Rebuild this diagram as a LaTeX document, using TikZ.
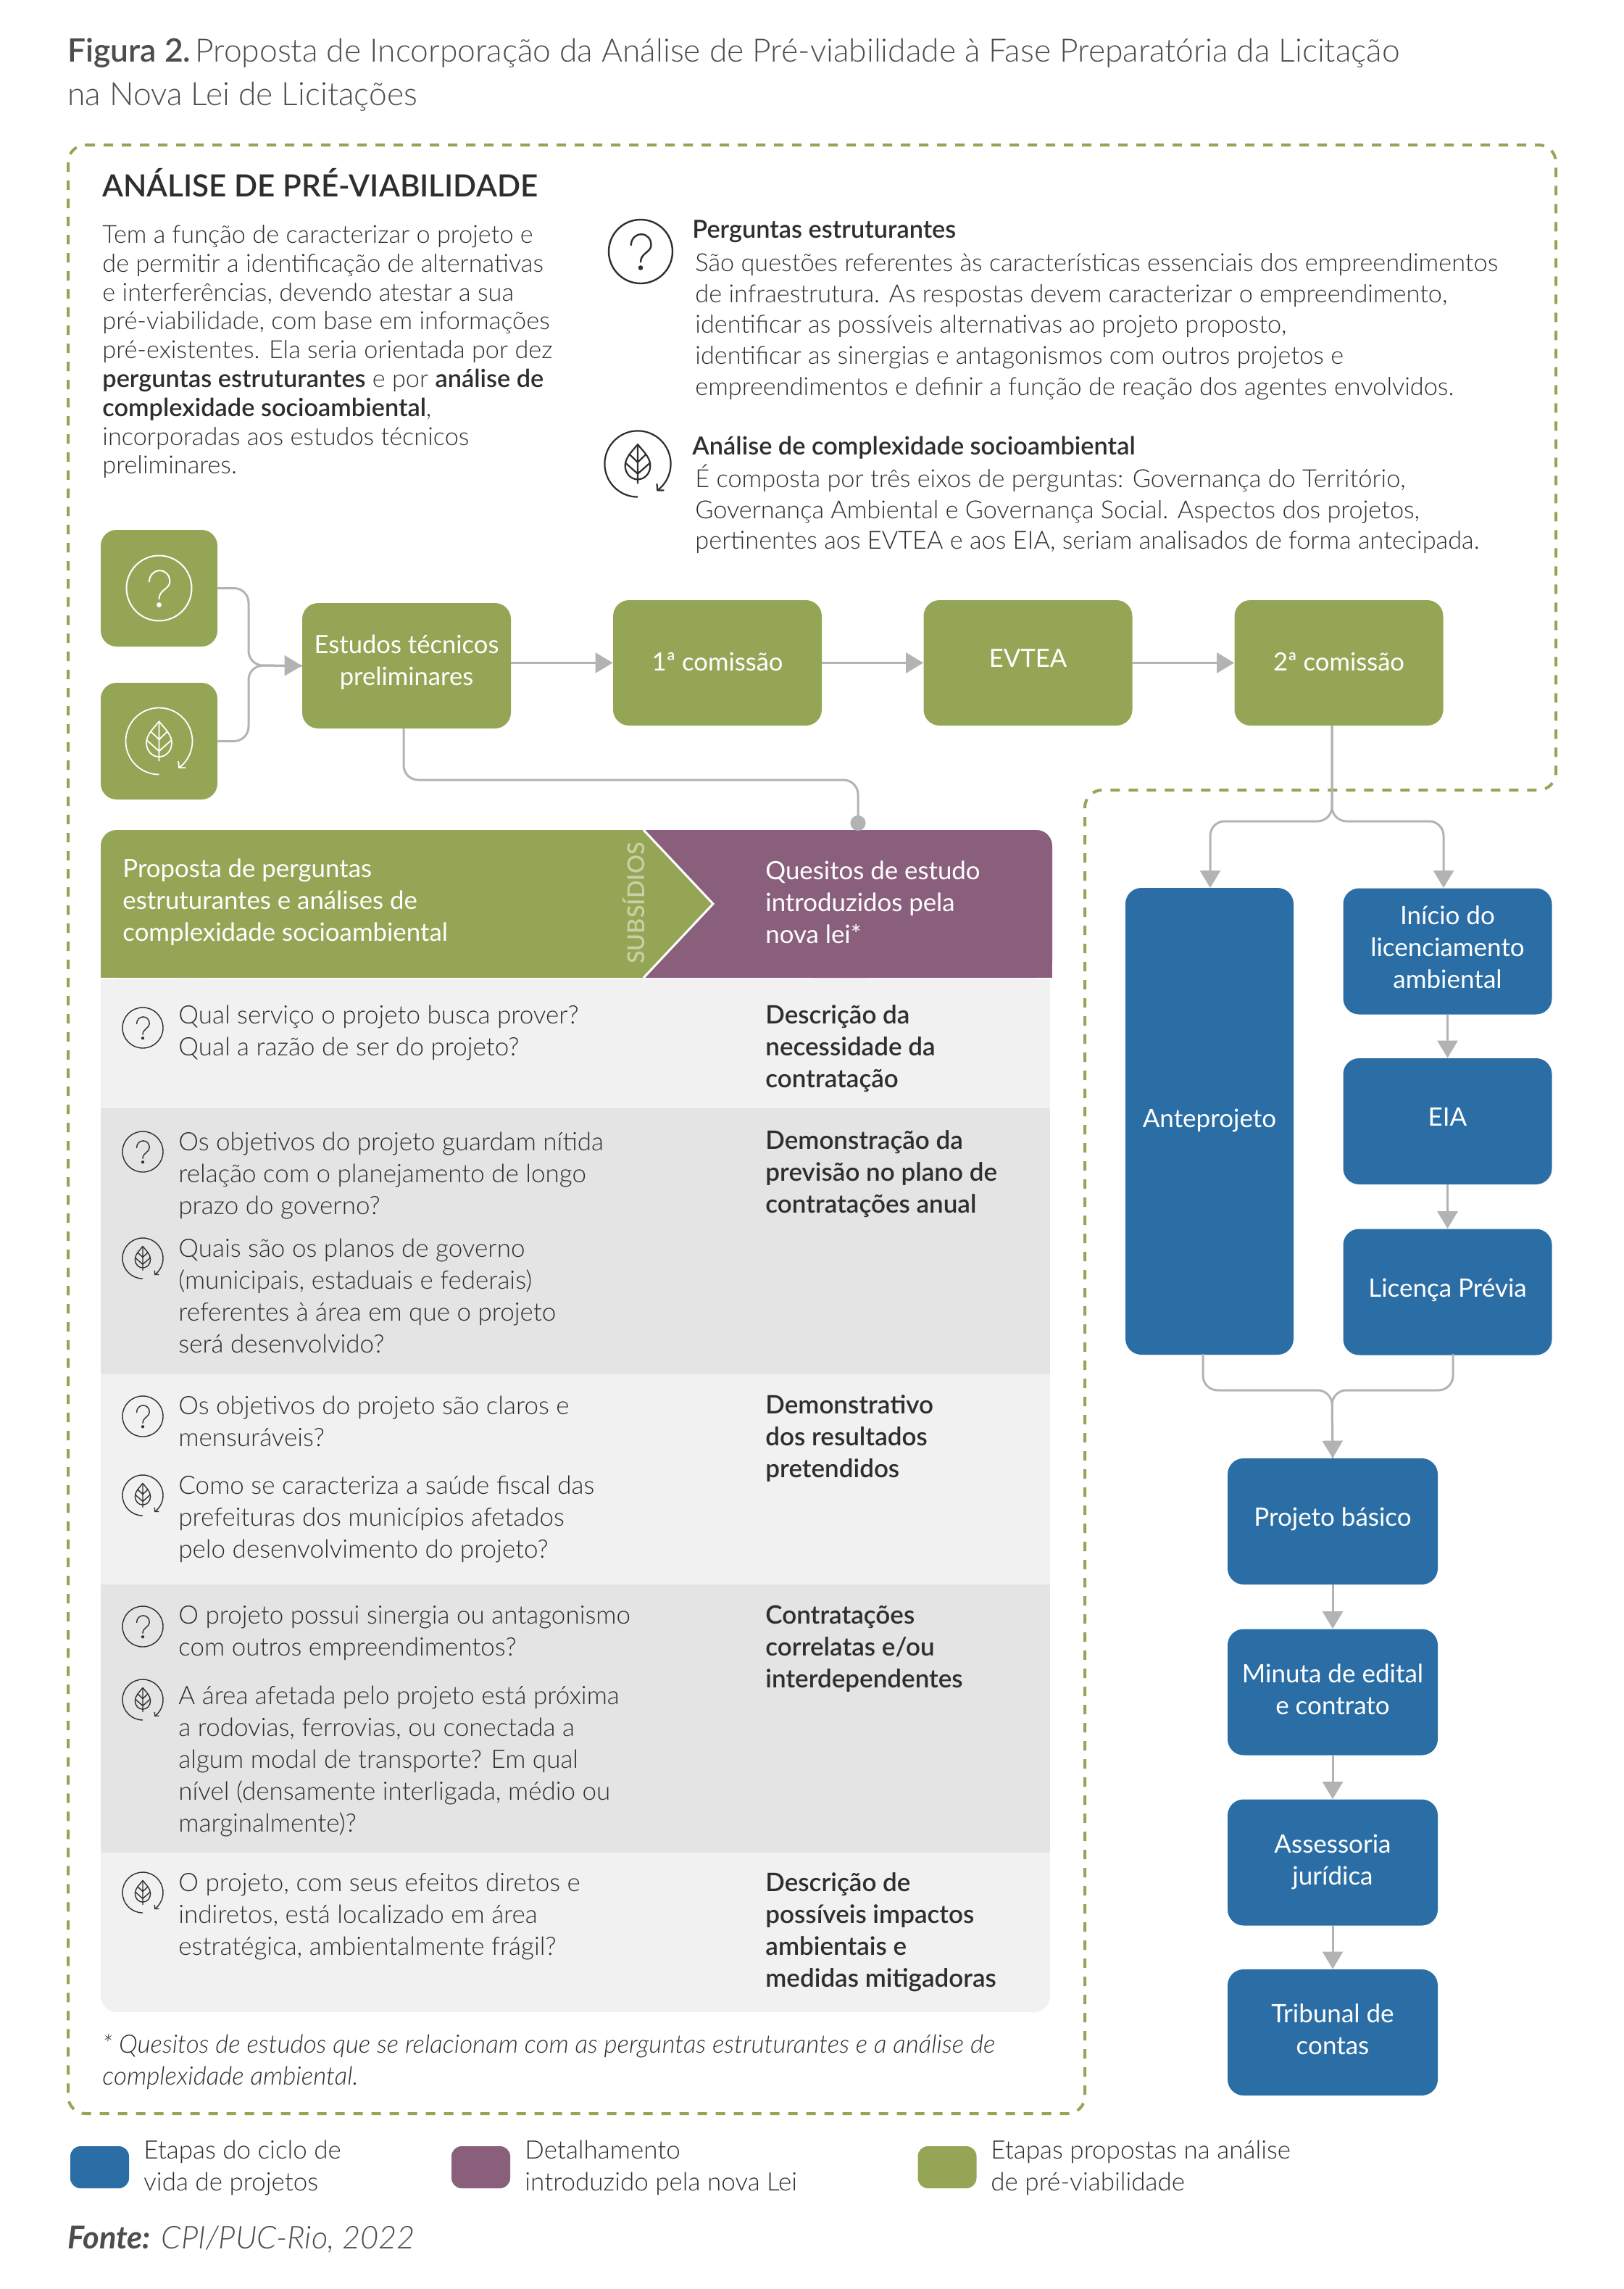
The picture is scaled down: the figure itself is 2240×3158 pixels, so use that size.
\documentclass[tikz,border=0pt]{standalone}
\usepackage{fontspec}
\setmainfont{Lato Light}[BoldFont={Lato Semibold},ItalicFont={Lato Light Italic},BoldItalicFont={Lato Bold Italic}]
\newfontfamily\semib{Lato Semibold}
\newfontfamily\regw{Lato}
\usetikzlibrary{arrows.meta}
\definecolor{grn}{HTML}{94A656}
\definecolor{blu}{HTML}{2A6EA5}
\definecolor{pur}{HTML}{8A5F7C}
\definecolor{conng}{HTML}{B3B3B3}
\definecolor{ink}{HTML}{2E2E2E}
\definecolor{ink2}{HTML}{4D4D4D}
\definecolor{rowa}{HTML}{F1F1F1}
\definecolor{rowb}{HTML}{E4E4E4}
\definecolor{subs}{HTML}{C6D0A2}
\newcommand\upby[1]{\rule[-#1]{0pt}{#1}}
\newcommand\fl{\rule{0pt}{22pt}}
\newcommand\icr{10pt}
\newcommand\icc{ink}
\tikzset{
 icon r/.store in=\icr,
 icon c/.store in=\icc,
 tx/.style={anchor=north west,inner sep=0pt,align=left,yshift=22pt,text=ink},
 parA/.style={tx,font=\fontsize{17.15}{19.9}\selectfont},
 parB/.style={tx,font=\fontsize{17.15}{21.35}\selectfont},
 tb/.style={tx,font=\fontsize{17.5}{22}\selectfont},
 hd/.style={tx,text=white,font=\regw\fontsize{17.4}{22}\selectfont},
 lg/.style={tx,font=\fontsize{17.5}{22}\selectfont},
 stepbox/.style={rectangle,rounded corners=11pt,inner sep=0pt,text=white,align=center,font=\regw\fontsize{17.5}{22}\selectfont},
 gbox/.style={stepbox,fill=grn,minimum width=144pt,minimum height=86.5pt,font=\regw\fontsize{17.3}{22}\selectfont},
 bbox/.style={stepbox,fill=blu,minimum width=144pt,minimum height=87pt},
 swatch/.style={rectangle,rounded corners=7pt,inner sep=0pt,minimum width=40.5pt,minimum height=29pt},
 conn/.style={draw=conng,line width=1.5pt,rounded corners=10pt},
 arr/.style={conn,-{Triangle[length=12pt,width=14pt,fill=conng]}},
 qmark/.pic={
  \begin{scope}[x=\icr,y=\icr]
   \draw[draw=\icc,pic actions,fill=none] (0,0) circle (1);
   \draw[draw=\icc,pic actions,fill=none,line cap=round] (-.3,.2) .. controls (-.3,.4) and (-.15,.54) .. (.02,.54) .. controls (.2,.54) and (.33,.4) .. (.33,.2) .. controls (.33,-.02) and (0,-.05) .. (0,-.33);
   \fill[fill=\icc] (0,-.51) circle (.075);
  \end{scope}
 },
 leafmark/.pic={
  \begin{scope}[x=\icr,y=\icr]
   \draw[draw=\icc,pic actions,fill=none] (0,-1) arc[start angle=270,end angle=-53,radius=1];
   \draw[draw=\icc,pic actions,fill=none] (.58,-.6) -- (.6,-.8) -- (.8,-.8);
   \draw[draw=\icc,pic actions,fill=none,line join=round] (0,.59) .. controls (-.15,.4) and (-.38,.2) .. (-.38,-.05) .. controls (-.38,-.3) and (-.2,-.47) .. (0,-.47) .. controls (.2,-.47) and (.38,-.3) .. (.38,-.05) .. controls (.38,.2) and (.15,.4) .. (0,.59) -- cycle;
   \draw[draw=\icc,pic actions,fill=none] (0,.59) -- (0,-.6) (-.36,.02) -- (0,-.3) -- (.36,.02) (-.24,.28) -- (0,.05) -- (.24,.28);
  \end{scope}
 }
}
\begin{document}
\begin{tikzpicture}[x=0.5pt,y=-0.5pt]
\useasboundingbox (0,0) rectangle (2240,3158);
% title
\node[tx,text=ink2,font=\fontsize{22.2}{30}\selectfont,at={(93,85)}] (title) {\fl{\semib Figura 2.}\hspace{-5pt} Proposta de Incorporação da Análise de Pré-viabilidade à Fase Preparatória da Licitação\\na Nova Lei de Licitações};
% dashed outline
\draw[draw=grn,line width=2pt,dash pattern=on 6.5pt off 6pt,rounded corners=12pt] (94,200) -- (2147,200) -- (2147,1090) -- (1497,1090) -- (1497,2916) -- (94,2916) -- cycle;
\node[tx,font=\fontsize{21.1}{24}\selectfont,at={(141,271)}] (heading) {\fl{\semib ANÁLISE DE PRÉ-VIABILIDADE}};
\node[parA,at={(141,335)}] (intro) {\fl Tem a função de caracterizar o projeto e\\de permitir a identificação de alternativas\\e interferências, devendo atestar a sua\\pré-viabilidade, com base em informações\\pré-existentes. Ela seria orientada por dez\\\textbf{perguntas estruturantes} e por \textbf{análise de}\\\textbf{complexidade socioambiental},\\incorporadas aos estudos técnicos\\preliminares.};
\pic[icon r=22pt,line width=1.2pt] at (884,347) {qmark};
\node[parB,at={(955,328)}] (pe) {\fl\textbf{Perguntas estruturantes}};
\node[parB,at={(959,374)}] (pet) {\fl São questões referentes às características essenciais dos empreendimentos\\de infraestrutura. As respostas devem caracterizar o empreendimento,\\identificar as possíveis alternativas ao projeto proposto,\\identificar as sinergias e antagonismos com outros projetos e\\empreendimentos e definir a função de reação dos agentes envolvidos.};
\pic[icon r=22.8pt,line width=1.1pt] at (880,640) {leafmark};
\node[parB,at={(955,627)}] (ac) {\fl\textbf{Análise de complexidade socioambiental}};
\node[parB,at={(959,672)}] (act) {\fl É composta por três eixos de perguntas: Governança do Território,\\Governança Ambiental e Governança Social. Aspectos dos projetos,\\pertinentes aos EVTEA e aos EIA, seriam analisados de forma antecipada.};
% green flow
\node[stepbox,fill=grn,minimum width=80.5pt,minimum height=80.5pt,at={(219.5,811.5)}] (qbox) {};
\node[stepbox,fill=grn,minimum width=80.5pt,minimum height=80.5pt,at={(219.5,1022.5)}] (lbox) {};
\pic[icon r=22.5pt,icon c=white,line width=1pt] at (qbox) {qmark};
\pic[icon r=23pt,icon c=white,line width=.9pt] at (lbox) {leafmark};
\node[gbox,at={(561,918.5)}] (etp) {Estudos técnicos\\preliminares\upby{8pt}};
\node[gbox,at={(990,914.5)}] (c1) {1ª comissão\upby{2pt}};
\node[gbox,at={(1418.5,914.5)}] (evtea) {EVTEA\upby{6pt}};
\node[gbox,at={(1847.5,914.5)}] (c2) {2ª comissão\upby{2pt}};
% blue flow
\node[stepbox,fill=blu,minimum width=116pt,minimum height=322pt,at={(1669,1547)}] (ante) {Anteprojeto\upby{4pt}};
\node[bbox,at={(1997.5,1312.5)}] (ini) {Início do\\licenciamento\\ambiental\upby{6pt}};
\node[bbox,at={(1997.5,1547)}] (eia) {EIA\upby{6pt}};
\node[bbox,at={(1997.5,1782.5)}] (lic) {Licença Prévia\upby{6pt}};
\node[bbox,at={(1839,2099)},minimum width=145pt] (pb) {Projeto básico\upby{6pt}};
\node[bbox,at={(1839,2334.5)},minimum width=145pt] (min) {Minuta de edital\\e contrato\upby{4pt}};
\node[bbox,at={(1839,2569.5)},minimum width=145pt] (ass) {Assessoria\\jurídica\upby{4pt}};
\node[bbox,at={(1839,2804)},minimum width=145pt] (trib) {Tribunal de\\contas\upby{4pt}};
% connectors
\coordinate (j1) at (343,918);
\draw[conn] (qbox.east) -- (qbox.east -| j1) -- (j1) -- (etp.west);
\draw[arr] (lbox.east) -- (lbox.east -| j1) -- (j1) -- (etp.west);
\draw[arr] (etp.east |- c1.west) -- (c1.west);
\draw[arr] (c1.east) -- (evtea.west);
\draw[arr] (evtea.east) -- (c2.west);
\coordinate (s0) at (1838,1001);
\coordinate (sm) at (1838,1133);
\coordinate (al) at (1670,1225);
\coordinate (ar) at (1992,1225);
\draw[arr] (s0) -- (sm) -- (sm -| al) -- (al);
\draw[arr] (s0) -- (sm) -- (sm -| ar) -- (ar);
\draw[arr] (ini.south) -- (eia.north);
\draw[arr] (eia.south) -- (lic.north);
\coordinate (m0) at (1838,1918);
\coordinate (ml) at (1660,1868);
\coordinate (mr) at (2005,1868);
\draw[conn] (ml) -- (ml |- m0) -- (m0) -- (pb.north);
\draw[arr] (mr) -- (mr |- m0) -- (m0) -- (pb.north);
\draw[arr] (pb.south) -- (min.north);
\draw[arr] (min.south) -- (ass.north);
\draw[arr] (ass.south) -- (trib.north);
% table rows
\fill[rowa] (139,1351) rectangle (1449,1529);
\fill[rowb] (139,1529) rectangle (1449,1896);
\fill[rowa] (139,1896) rectangle (1449,2186);
\fill[rowb] (139,2186) rectangle (1449,2556);
\fill[rowa,rounded corners=11pt] (139,2540) -- (139,2776) -- (1449,2776) -- (1449,2540) -- cycle;
\fill[rowb] (139,2530) rectangle (1449,2556);
% header
\fill[pur,rounded corners=11pt] (1100,1145) -- (1452,1145) -- (1452,1349) -- (1100,1349) -- cycle;
\fill[pur] (886,1145) -- (1200,1145) -- (1200,1349) -- (886,1349) -- (984,1247) -- cycle;
\fill[pur] (1300,1300) rectangle (1452,1349);
\fill[grn,rounded corners=11pt] (300,1349) -- (139,1349) -- (139,1145) -- (300,1145) -- cycle;
\fill[grn] (250,1145) -- (890,1145) -- (984,1247) -- (890,1349) -- (250,1349) -- cycle;
\fill[grn] (139,1300) rectangle (300,1349);
\coordinate (hdtop) at (1184,1146);
\coordinate (hy) at (0,1076);
\coordinate (et0) at (557,1005);
\draw[conn,-{Circle[length=10.5pt,fill=conng]}] (et0) -- (et0 |- hy) -- (hdtop |- hy) -- (hdtop);
\draw[white,line width=1.5pt] (888,1145) -- (984,1247) -- (888,1349);
\node[hd,at={(169,1210)}] (h1) {\fl Proposta de perguntas\\estruturantes e análises de\\complexidade socioambiental};
\node[hd,at={(1056,1213)}] (h2) {\fl Quesitos de estudo\\introduzidos pela\\nova lei*};
\node[rotate=90,inner sep=0pt,text=subs,font=\semib\fontsize{16.2}{18}\selectfont,at={(875,1246)}] (subs) {SUBSÍDIOS};
% table texts
\tikzset{smq/.style={icon r=14pt,line width=.7pt}}
\pic[smq] at (197,1418) {qmark};
\node[tb,at={(246,1412)}] (r1a) {\fl Qual serviço o projeto busca prover?\\Qual a razão de ser do projeto?};
\node[tb,at={(1056,1412)}] (r1b) {\fl\textbf{Descrição da}\\\textbf{necessidade da}\\\textbf{contratação}};
\pic[smq] at (197,1589) {qmark};
\node[tb,at={(246,1587)}] (r2a) {\fl Os objetivos do projeto guardam nítida\\relação com o planejamento de longo\\prazo do governo?};
\pic[smq] at (197,1736) {leafmark};
\node[tb,at={(246,1734)}] (r2c) {\fl Quais são os planos de governo\\(municipais, estaduais e federais)\\referentes à área em que o projeto\\será desenvolvido?};
\node[tb,at={(1056,1585)}] (r2b) {\fl\textbf{Demonstração da}\\\textbf{previsão no plano de}\\\textbf{contratações anual}};
\pic[smq] at (197,1954) {qmark};
\node[tb,at={(246,1951)}] (r3a) {\fl Os objetivos do projeto são claros e\\mensuráveis?};
\pic[smq] at (197,2063) {leafmark};
\node[tb,at={(246,2061)}] (r3c) {\fl Como se caracteriza a saúde fiscal das\\prefeituras dos municípios afetados\\pelo desenvolvimento do projeto?};
\node[tb,at={(1056,1950)}] (r3b) {\fl\textbf{Demonstrativo}\\\textbf{dos resultados}\\\textbf{pretendidos}};
\pic[smq] at (197,2244) {qmark};
\node[tb,at={(246,2240)}] (r4a) {\fl O projeto possui sinergia ou antagonismo\\com outros empreendimentos?};
\pic[smq] at (197,2345) {leafmark};
\node[tb,at={(246,2351)}] (r4c) {\fl A área afetada pelo projeto está próxima\\a rodovias, ferrovias, ou conectada a\\algum modal de transporte? Em qual\\nível (densamente interligada, médio ou\\marginalmente)?};
\node[tb,at={(1056,2240)}] (r4b) {\fl\textbf{Contratações}\\\textbf{correlatas e/ou}\\\textbf{interdependentes}};
\pic[smq] at (197,2611) {leafmark};
\node[tb,at={(246,2609)}] (r5a) {\fl O projeto, com seus efeitos diretos e\\indiretos, está localizado em área\\estratégica, ambientalmente frágil?};
\node[tb,at={(1056,2609)}] (r5b) {\fl\textbf{Descrição de}\\\textbf{possíveis impactos}\\\textbf{ambientais e}\\\textbf{medidas mitigadoras}};
% footnote
\node[tb,at={(141,2832)}] (fn) {\fl\itshape * Quesitos de estudos que se relacionam com as perguntas estruturantes e a análise de\\\itshape complexidade ambiental.};
% legend
\node[swatch,fill=blu,at={(137.5,2990)}] (s1) {};
\node[swatch,fill=pur,at={(663.5,2990)}] (s2) {};
\node[swatch,fill=grn,at={(1307,2990)}] (s3) {};
\node[lg,at={(198,2978)}] (l1) {\fl Etapas do ciclo de\\vida de projetos};
\node[lg,at={(724,2978)}] (l2) {\fl Detalhamento\\introduzido pela nova Lei};
\node[lg,at={(1367,2978)}] (l3) {\fl Etapas propostas na análise\\de pré-viabilidade};
\node[tx,text=ink2,font=\fontsize{21.7}{24}\selectfont,at={(93,3102)}] (fonte) {\fl\textit{\textbf{Fonte:} CPI/PUC-Rio, 2022}};
\end{tikzpicture}
\end{document}
